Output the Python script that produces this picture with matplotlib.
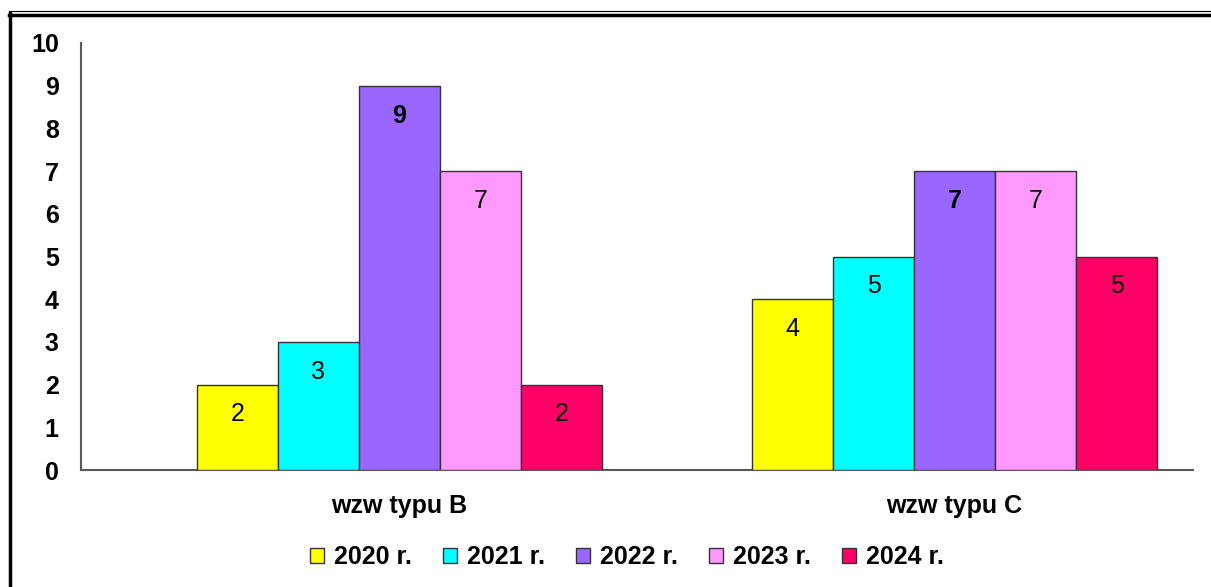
import matplotlib as mpl
mpl.use('Agg')
import matplotlib.pyplot as plt
import numpy as np
from matplotlib.lines import Line2D

plt.rcParams['font.family'] = ['Liberation Sans', 'DejaVu Sans']

categories = ['wzw typu B', 'wzw typu C']
years = ['2020 r.', '2021 r.', '2022 r.', '2023 r.', '2024 r.']
values = {
	'2020 r.': [2, 4],
	'2021 r.': [3, 5],
	'2022 r.': [9, 7],
	'2023 r.': [7, 7],
	'2024 r.': [2, 5],
}
colors = ['#FFFF00', '#00FFFF', '#9966FF', '#FF99FF', '#FF0066']

fig = plt.figure(figsize=(12.11, 5.87), dpi=100)
ax = fig.add_axes([81/1211, 1-470/587, (1193-81)/1211, (470-43)/587])

x = np.arange(len(categories))
w = 81/555.
for i, yr in enumerate(years):
	pos = x + (i - 2) * w
	bars = ax.bar(pos, values[yr], w, color=colors[i], edgecolor='#333333', linewidth=1, label=yr, zorder=3)
	# the 2022 labels are bold in the original
	fw = 'bold' if yr == '2022 r.' else 'normal'
	for b, v in zip(bars, values[yr]):
		ax.text(b.get_x() + b.get_width()/2, v - 0.7, str(v), ha='center', va='center',
			fontsize=18, fontweight=fw, color='black', zorder=4)

ax.set_xlim(-(399.5-81)/555., 1 + (1193-954.5)/555.)
ax.set_ylim(0, 10)
ax.set_yticks(range(0, 11))
ax.set_yticklabels([str(i) for i in range(0, 11)], fontsize=18, fontweight='bold')
ax.tick_params(axis='y', length=0, pad=16)
ax.set_xticks(x)
ax.set_xticklabels(categories, fontsize=18, fontweight='bold')
ax.tick_params(axis='x', length=0, pad=17)
for s in ['top', 'right']:
	ax.spines[s].set_visible(False)
for s in ['left', 'bottom']:
	ax.spines[s].set_color('#595959')
	ax.spines[s].set_linewidth(1.5)

leg = fig.legend(loc='center', bbox_to_anchor=(627/1211, 1-557/587), ncol=5, frameon=False,
	prop={'weight': 'bold', 'size': 18}, handlelength=0.55, handleheight=0.55,
	handletextpad=0.4, columnspacing=1.25)

# outer frame
fig.add_artist(Line2D([10.5/1211, 10.5/1211], [0, 1-13/587], transform=fig.transFigure, color='black', linewidth=2.5))
fig.add_artist(Line2D([9/1211, 1], [1-14.5/587, 1-14.5/587], transform=fig.transFigure, color='black', linewidth=2.5))
fig.add_artist(Line2D([9/1211, 1], [1-10.5/587, 1-10.5/587], transform=fig.transFigure, color='black', linewidth=0.8))

plt.savefig('out.png', dpi=100)
plt.close()
